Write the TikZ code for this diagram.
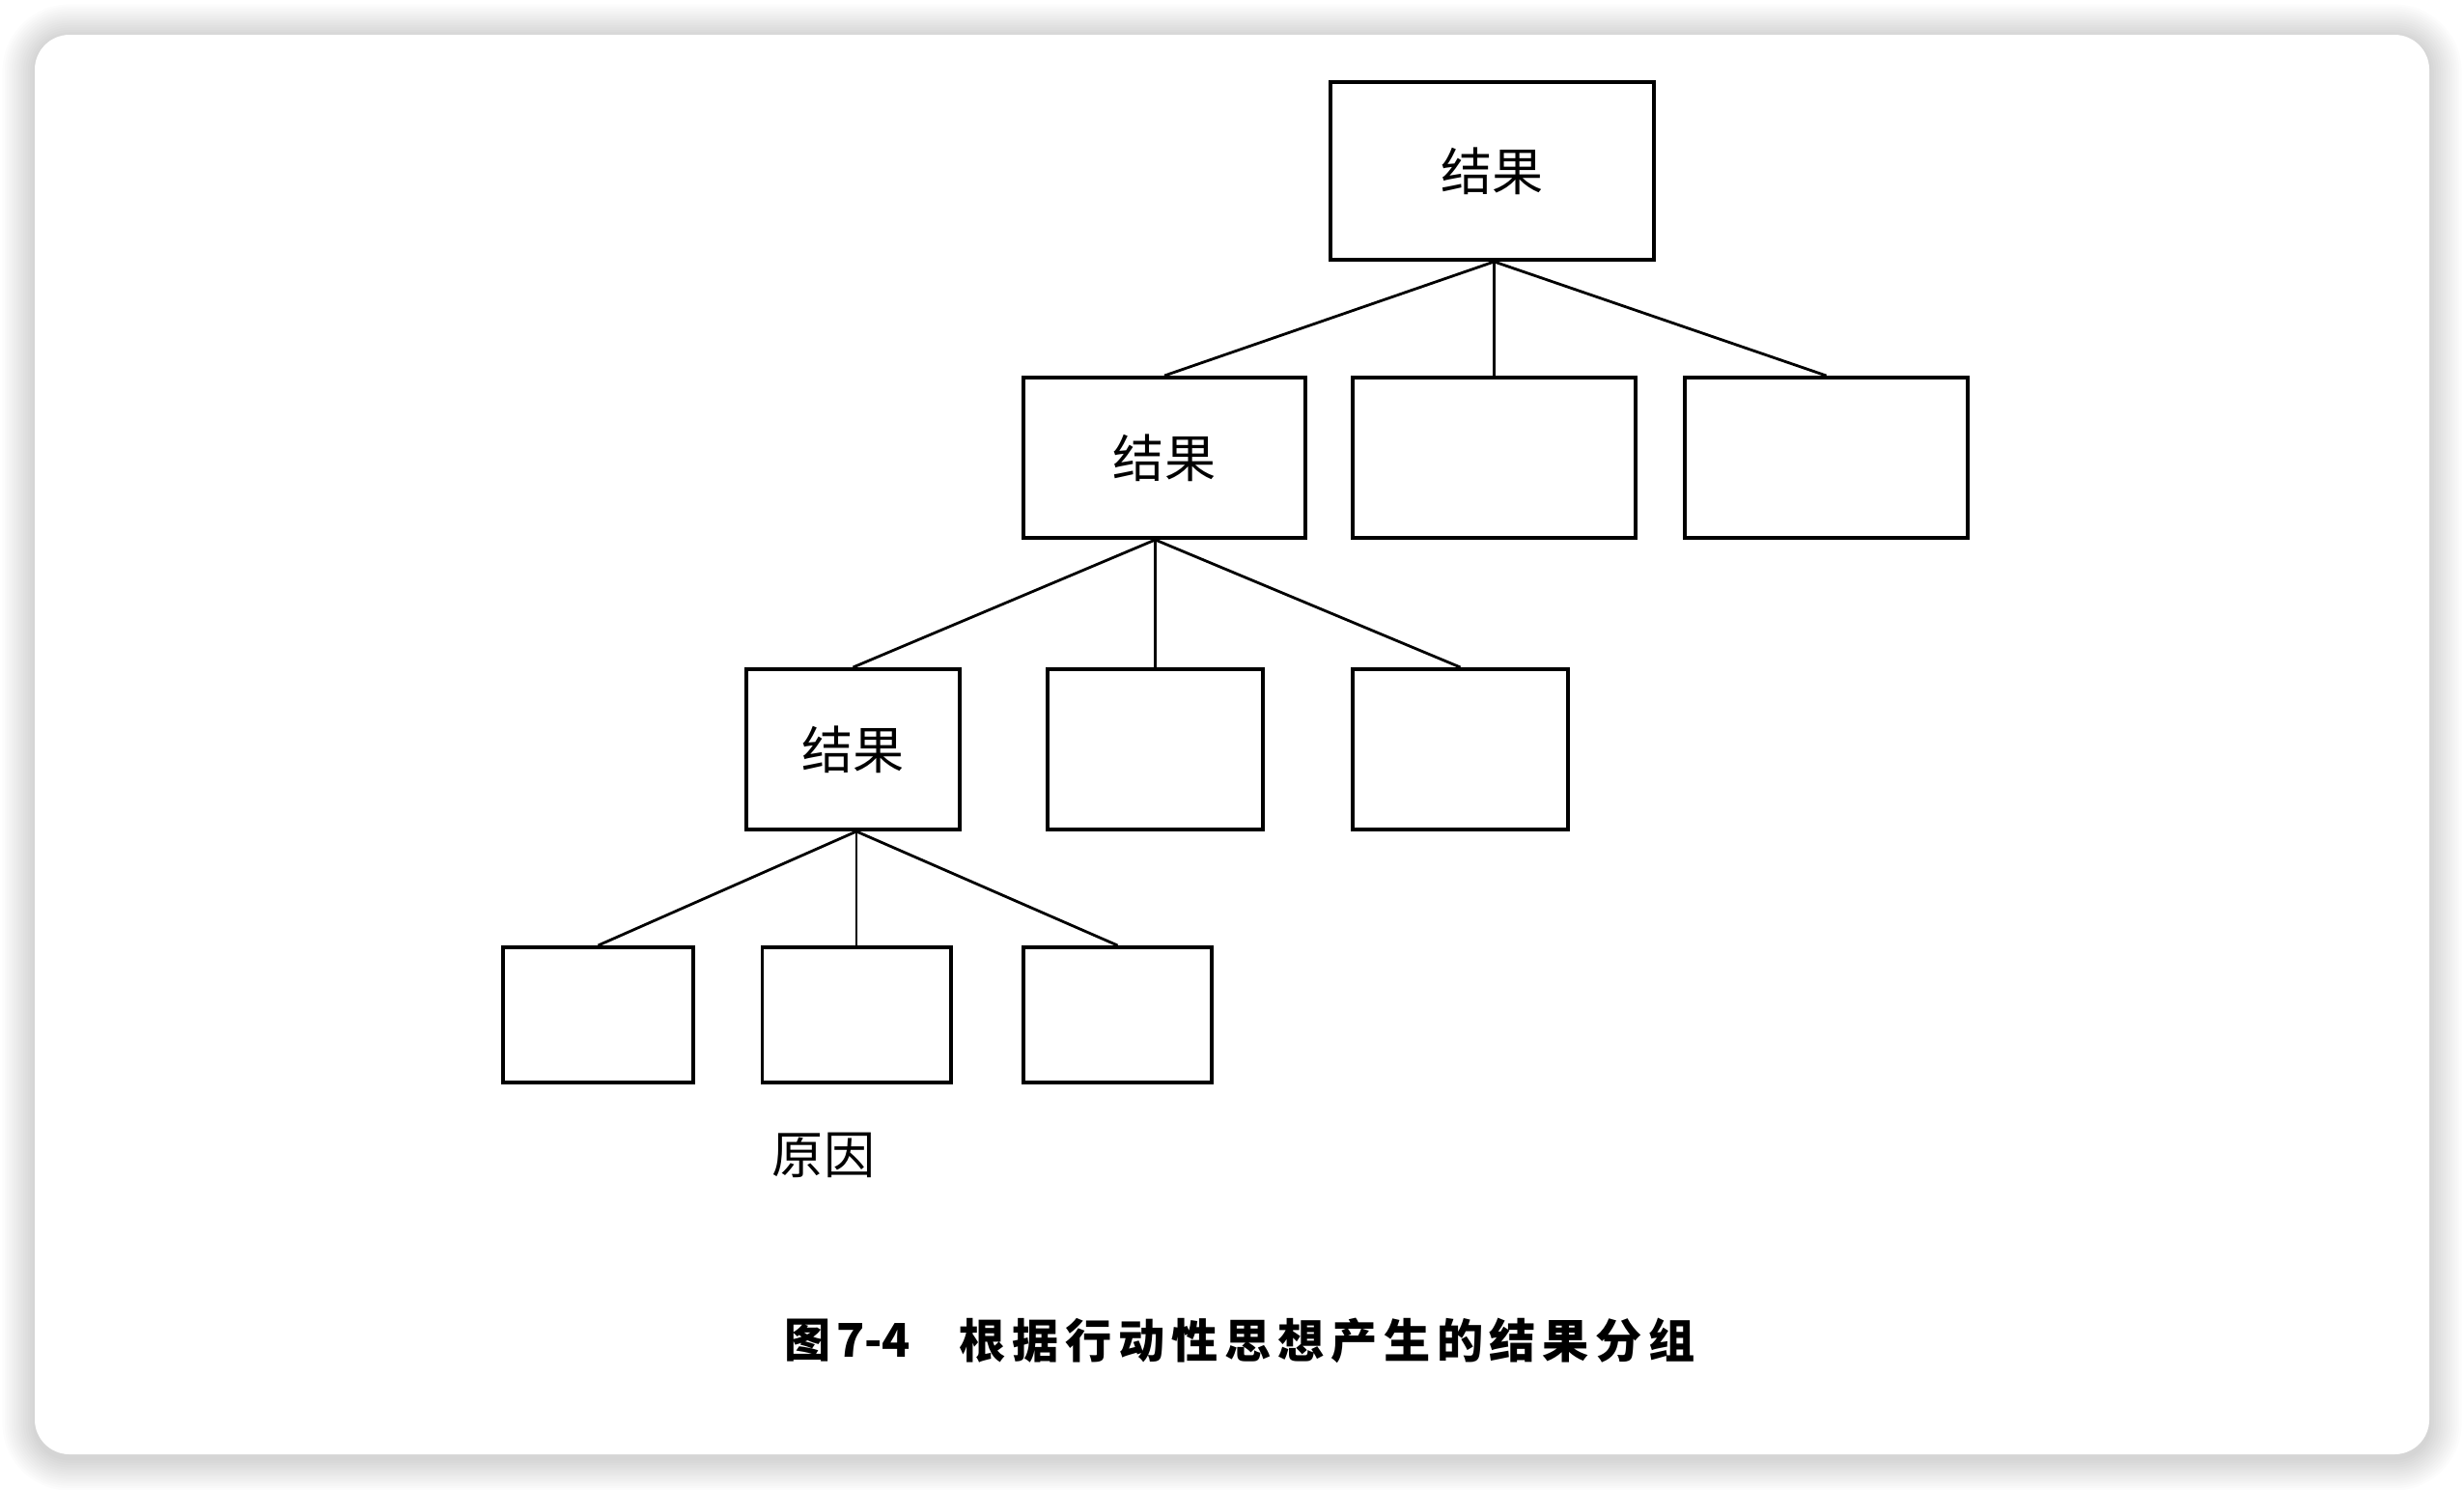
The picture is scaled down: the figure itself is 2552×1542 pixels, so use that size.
\documentclass[tikz,border=0pt]{standalone}
\usepackage{fontspec}
\newfontfamily\cjk{Noto Sans CJK SC}
\begin{document}
\begin{tikzpicture}[x=0.01cm,y=-0.01cm,
  box/.style={draw=black, line width=1.1pt, fill=white, inner sep=0pt,
    font=\cjk\fontsize{15.1pt}{18pt}\selectfont},
  link/.style={draw=black, line width=0.8pt},
  lbl/.style={font=\cjk\fontsize{15.1pt}{18pt}\selectfont, inner sep=0pt},
  captext/.style={font=\cjk\bfseries\fontsize{13.7pt}{16pt}\selectfont, inner sep=0pt, anchor=west}]

% page and card with soft shadow
\fill[white] (0,0) rectangle (2552,1542);
\useasboundingbox (0,0) rectangle (2552,1542);
\foreach \i in {1,...,14}{
  \pgfmathsetmacro\rr{(36+2.4*\i)*0.2845}
  \fill[black, opacity=0.011, rounded corners=\rr pt]
    (36-2.4*\i, 38-2.4*\i) rectangle (2516+2.4*\i, 1510+2.4*\i);
}
\fill[white, rounded corners=10.24pt] (36,36) rectangle (2516,1506);

% level 1
\node[box, minimum width=3.35cm, minimum height=1.84cm] (t) at (1545.5,177) {结果};
% level 2
\node[box, minimum width=2.92cm, minimum height=1.66cm] (a) at (1206,474) {结果};
\node[box, minimum width=2.93cm, minimum height=1.66cm] (b) at (1547.5,474) {};
\node[box, minimum width=2.93cm, minimum height=1.66cm] (c) at (1891.5,474) {};
% level 3
\node[box, minimum width=2.21cm, minimum height=1.66cm] (d) at (883.5,776) {结果};
\node[box, minimum width=2.23cm, minimum height=1.66cm] (e) at (1196.5,776) {};
\node[box, minimum width=2.23cm, minimum height=1.66cm] (f) at (1512.5,776) {};
% level 4
\node[box, minimum width=1.97cm, minimum height=1.40cm] (g) at (619.5,1051) {};
\node[box, minimum width=1.95cm, minimum height=1.40cm] (h) at (887,1051) {};
\node[box, minimum width=1.95cm, minimum height=1.40cm] (i) at (1157.5,1051) {};

% branching points directly above the middle child
\coordinate (jt) at (t.south -| b.north);
\coordinate (ja) at (a.south -| e.north);
\coordinate (jd) at (d.south -| h.north);

% connectors
\draw[link] (jt) -- (a.north);
\draw[link] (jt) -- (b.north);
\draw[link] (jt) -- (c.north);
\draw[link] (ja) -- (d.north);
\draw[link] (ja) -- (e.north);
\draw[link] (ja) -- (f.north);
\draw[link] (jd) -- (g.north);
\draw[link] (jd) -- (h.north);
\draw[link] (jd) -- (i.north);

% labels
\node[lbl] (cause) at (853,1196) {原因};
\node[captext] (fignum) at (812,1388) {图\hspace{1.5pt}7-4};
\node[captext] (title) at (993,1388) {\addfontfeature{LetterSpace=14}根据行动性思想产生的结果分组};
\end{tikzpicture}
\end{document}
